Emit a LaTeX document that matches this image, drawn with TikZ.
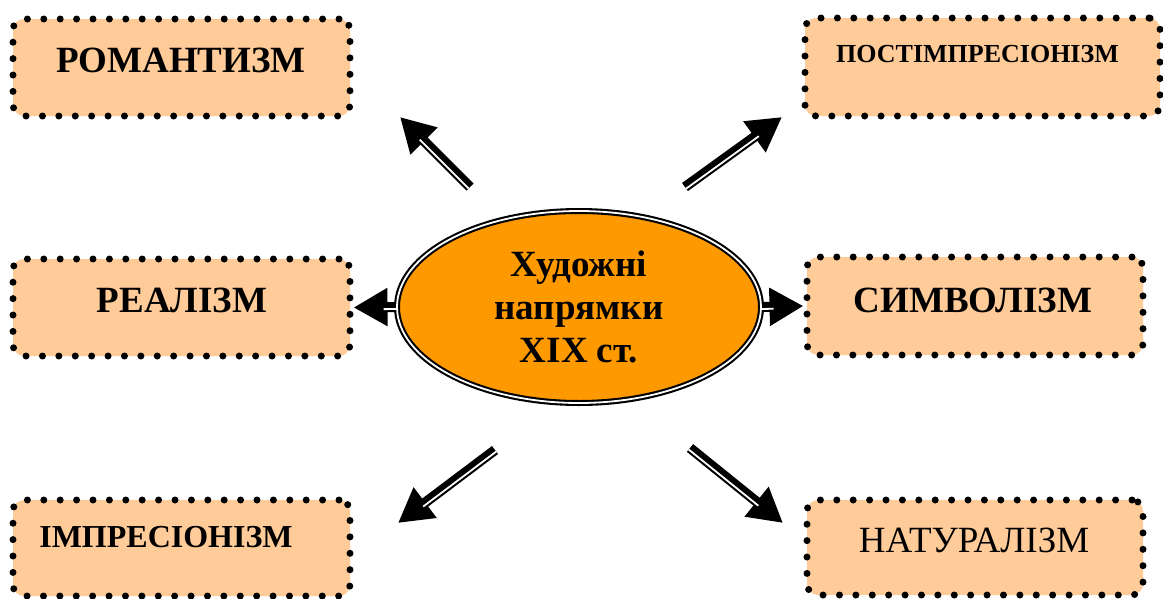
\documentclass[tikz,border=0pt]{standalone}
\usepackage{fontspec}
\setmainfont{Liberation Serif}
\usetikzlibrary{shapes.geometric,arrows.meta,calc}
\definecolor{boxc}{RGB}{255,204,153}
\definecolor{ellc}{RGB}{255,153,0}
\newcommand{\myDblArrow}[4]{%
  \draw[shaft] (#1) -- (#2);
  \coordinate (hb) at ($(#2)!30pt!(#1)$);
  \draw[gapline] ($(#1)!2pt!#3:(#2)$) -- ($(hb)!2pt!#4:(#1)$);
}
\begin{document}
\begin{tikzpicture}[x=1pt,y=-1pt,
  box/.style={rectangle, rounded corners=11pt, fill=boxc, draw=black, line width=7pt, line cap=round, dash pattern=on 0pt off 16.4pt, inner sep=0pt},
  lbl/.style={anchor=base, inner sep=0pt, font=\bfseries\fontsize{37}{43}\selectfont},
  shaft/.style={draw=black, line width=10pt, -{Triangle[length=34pt,width=36pt]}},
  gapline/.style={draw=white, line width=1.8pt},
  hubstyle/.style={ellipse, fill=ellc, draw=black, double=white, double distance=1.8pt, line width=2.1pt, inner sep=0pt, align=center, font=\bfseries\fontsize{37}{43}\selectfont}
]
\useasboundingbox (0,0) rectangle (1163,598);

% boxes
\node[box, minimum width=337pt, minimum height=97pt] (rom) at (181.5,67.5) {};
\node[box, minimum width=355pt, minimum height=98pt] (post) at (982.5,67) {};
\node[box, minimum width=337pt, minimum height=97pt] (real) at (181.5,307.5) {};
\node[box, minimum width=336pt, minimum height=98pt] (sym) at (975,306) {};
\node[box, minimum width=337pt, minimum height=96pt] (imp) at (181.5,548) {};
\node[box, minimum width=336pt, minimum height=95pt] (nat) at (975,547.5) {};

% labels
\node[lbl] (romt) at (181,72) {РОМАНТИЗМ};
\node[lbl, font=\bfseries\fontsize{26}{30}\selectfont] (postt) at (977.5,62) {ПОСТІМПРЕСІОНІЗМ};
\node[lbl] (realt) at (182,312) {РЕАЛІЗМ};
\node[lbl] (symt) at (973,312) {СИМВОЛІЗМ};
\node[lbl, font=\bfseries\fontsize{32}{38}\selectfont] (impt) at (166,547) {ІМПРЕСІОНІЗМ};
\node[lbl, font=\fontsize{37}{43}\selectfont] (natt) at (974,552) {НАТУРАЛІЗМ};

% centre
\node[hubstyle, minimum width=364pt, minimum height=192pt] (hub) at (579,307) {Художні\\напрямки\\XIX ст.};

% arrow end points
\coordinate (nwA) at (470,187); \coordinate (nwB) at (400,117);
\coordinate (neA) at (685,187); \coordinate (neB) at (782,117);
\coordinate (swA) at (495,450); \coordinate (swB) at (398,523);
\coordinate (seA) at (690,448); \coordinate (seB) at (783,523);

\myDblArrow{nwA}{nwB}{90}{-90}
\myDblArrow{neA}{neB}{-90}{90}
\myDblArrow{hub.west}{real.east}{90}{-90}
\myDblArrow{hub.east}{sym.west}{-90}{90}
\myDblArrow{swA}{swB}{90}{-90}
\myDblArrow{seA}{seB}{-90}{90}
\end{tikzpicture}
\end{document}
